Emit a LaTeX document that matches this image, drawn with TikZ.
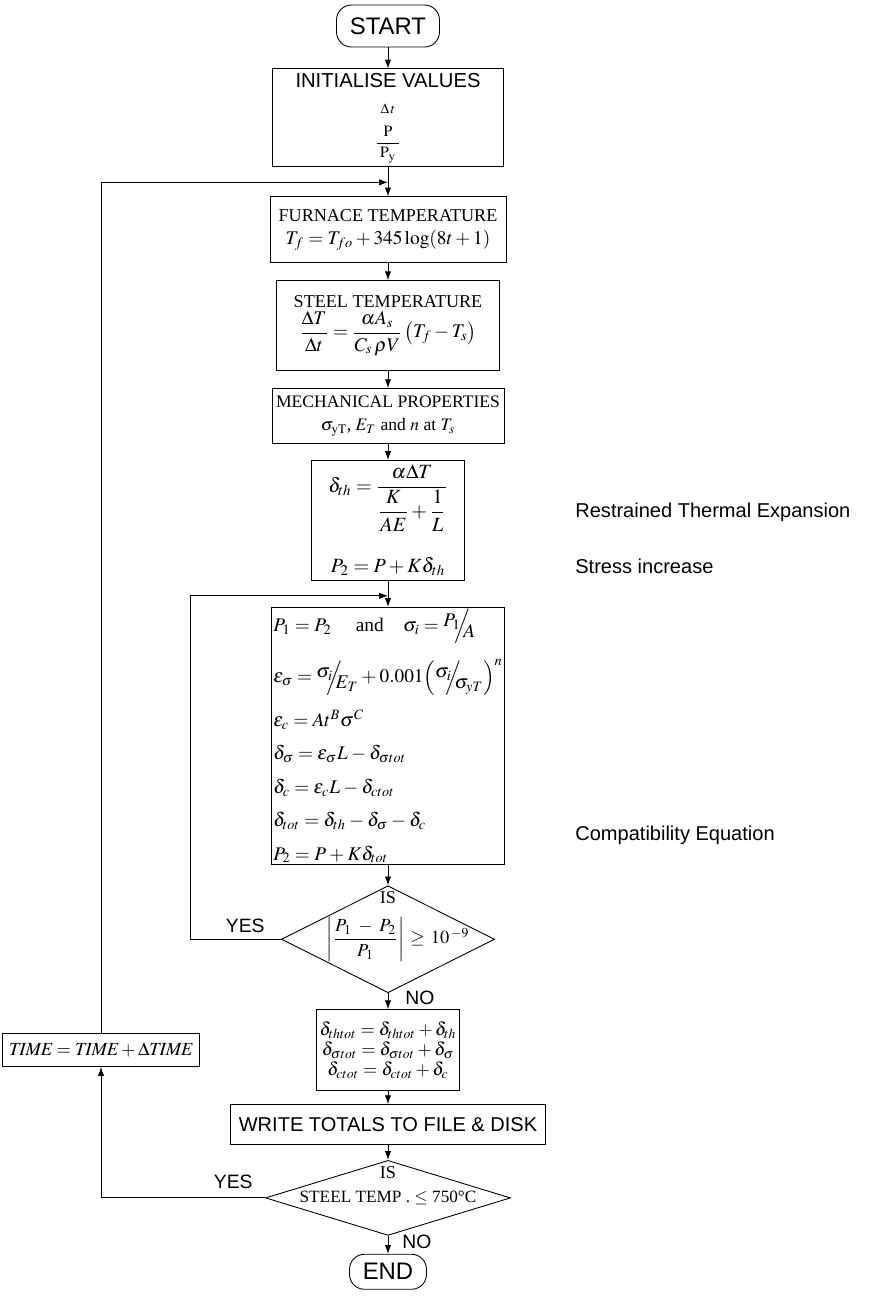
\documentclass[tikz,border=0pt]{standalone}
\usepackage{amsmath}
\usepackage{mathptmx}
\usepackage{fontspec}
\setmainfont{Liberation Serif}
\setsansfont{Liberation Sans}
\usetikzlibrary{arrows.meta, positioning, calc, shapes.geometric}

\newcommand{\slfrac}[2]{\raisebox{0.55ex}{$#1$}\!\!\!\Big/\!\!\!\raisebox{-0.7ex}{$#2$}}
\newcommand{\tightmath}{\medmuskip=3mu\relax\thickmuskip=4mu\relax}

\begin{document}
\begin{tikzpicture}[
    >={Latex[length=5pt, width=3.6pt]},
    line width=0.5pt,
    term/.style={
        rectangle,
        rounded corners=0.3cm,
        draw,
        font=\sffamily\fontsize{13.6}{15}\selectfont
    },
    box/.style={
        rectangle,
        draw,
        align=center,
        inner sep=2pt
    },
    decision/.style={
        diamond,
        draw,
        inner sep=0pt
    },
    lbl/.style={
        inner sep=0pt,
        font=\sffamily\fontsize{11}{13}\selectfont
    },
    note/.style={
        inner sep=0pt,
        anchor=west,
        font=\sffamily\fontsize{11.4}{13}\selectfont
    }
]

\useasboundingbox (0,0) rectangle (17.44,-25.94);

% Main vertical flow
\node[term, minimum width=2.06cm, minimum height=0.84cm] (start) at (7.76,-0.52) {START};

\node[box, below=0.42cm of start, minimum width=4.62cm, minimum height=1.96cm,
      font=\sffamily\fontsize{11.5}{14}\selectfont] (init)
    {INITIALISE VALUES\\[1pt]
     {\fontsize{8}{9}\selectfont$\Delta\,t$}\\[5pt]
     {\fontsize{9}{10}\selectfont$\dfrac{\;\mathrm{P}\;}{\;\mathrm{P}_{\mathrm{y}}\;}$}};

\node[box, below=0.58cm of init, minimum width=4.72cm, minimum height=1.32cm,
      font=\fontsize{10.3}{12}\selectfont] (furn)
    {FURNACE TEMPERATURE\\[1pt]
     {\fontsize{11}{13}\selectfont$T_f = T_{fo} + 345\log(8t+1)$}};

\node[box, below=0.34cm of furn, minimum width=4.46cm, minimum height=1.8cm,
      font=\fontsize{10.3}{12}\selectfont] (steel)
    {STEEL TEMPERATURE\\[1pt]
     {\fontsize{11}{13}\selectfont$\dfrac{\Delta T}{\Delta t} = \dfrac{\alpha A_s}{C_s\,\rho V}\left(T_f - T_s\right)$}};

\node[box, below=0.34cm of steel, minimum width=4.64cm, minimum height=1.1cm,
      font=\fontsize{10}{12}\selectfont] (mech)
    {MECHANICAL PROPERTIES\\[1pt]
     $\sigma_{\mathrm{yT}}$, $E_T$ and $n$ at $T_s$};

\node[box, below=0.32cm of mech, minimum width=3.06cm, minimum height=2.4cm,
      font=\fontsize{11.5}{13}\selectfont] (expn)
    {$\delta_{th} = \dfrac{\alpha\Delta T}{\dfrac{K}{AE}+\dfrac{1}{L}}$\\[14pt]
     $P_2 = P + K\delta_{th}$};

\node[box, below=0.52cm of expn, minimum width=4.5cm, minimum height=5.06cm, align=left,
      inner sep=1pt, font=\fontsize{11}{19}\selectfont\tightmath] (comp)
    {$P_1 = P_2$\quad\ and\quad $\sigma_i = \slfrac{P_1}{A}$\\[8pt]
     $\varepsilon_\sigma = \slfrac{\sigma_i}{E_T} + 0.001\Bigl(\slfrac{\sigma_i}{\sigma_{yT}}\Bigr)^{n}$\\[6pt]
     $\varepsilon_c = A t^B \sigma^C$\\
     $\delta_\sigma = \varepsilon_\sigma L - \delta_{\sigma tot}$\\
     $\delta_c = \varepsilon_c L - \delta_{ctot}$\\
     $\delta_{tot} = \delta_{th} - \delta_\sigma - \delta_c$\\
     $P_2 = P + K\delta_{tot}$};

\node[decision, below=0.4cm of comp, minimum width=4.26cm, minimum height=2.14cm] (d1) {};
\node[font=\fontsize{10.3}{12}\selectfont, below=0cm of d1.north] (is1) {IS};
\node[font=\fontsize{10.5}{12}\selectfont] (c1) at ([xshift=0.2cm]d1.center)
    {$\left|\dfrac{P_1 \;-\; P_2}{P_1}\right| \,\geq\, 10^{\,-9}$};

\node[box, below=0.32cm of d1, minimum width=2.78cm, minimum height=1.62cm,
      font=\fontsize{10.5}{11.5}\selectfont] (dtot)
    {$\delta_{thtot} = \delta_{thtot} + \delta_{th}$\\
     $\delta_{\sigma tot} = \delta_{\sigma tot} + \delta_\sigma$\\
     $\delta_{ctot} = \delta_{ctot} + \delta_c$};

\node[box, below=0.26cm of dtot, minimum width=6.3cm, minimum height=0.8cm,
      font=\sffamily\fontsize{11.4}{13}\selectfont] (write) {WRITE TOTALS TO FILE \& DISK};

\node[decision, below=0.3cm of write, minimum width=4.9cm, minimum height=1.5cm] (d2) {};
\node[font=\fontsize{10.3}{12}\selectfont, below=0cm of d2.north] (is2) {IS};
\node[font=\fontsize{9.8}{11}\selectfont] (c2) at (d2.center) {STEEL TEMP . $\leq$ 750°C};

\node[term, below=0.36cm of d2, minimum width=1.54cm, minimum height=0.7cm] (stop) {END};

% Time step box
\node[box, minimum width=3.94cm, minimum height=0.66cm,
      font=\fontsize{10.5}{13}\selectfont] (time) at (2.02,0 |- dtot)
    {$\mathit{TIME} = \mathit{TIME} + \Delta\mathit{TIME}$};

% YES / NO labels
\node[lbl, above left=0.12cm and 0.32cm of d1.west] (yes1) {YES};
\node[lbl, right=0.34cm of d1.south, yshift=-0.1cm] (no1) {NO};
\node[lbl, above left=0.18cm and 0.24cm of d2.west] (yes2) {YES};
\node[lbl, right=0.28cm of d2.south, yshift=-0.13cm] (no2) {NO};

% Side notes
\node[note, right=2.2cm of expn, yshift=0.16cm] (rte) {Restrained Thermal Expansion};
\node[note, right=2.2cm of expn, yshift=-0.92cm] (sinc) {Stress increase};
\node[note] (ceq) at ([yshift=-1.98cm]comp.center -| rte.west) {Compatibility Equation};

% Junctions for the loops
\coordinate[below=0.3cm of init] (j1);
\coordinate[below=0.3cm of expn] (j2);

% Main arrows
\draw[->] (start) -- (init);
\draw[->] (init) -- (furn);
\draw[->] (furn) -- (steel);
\draw[->] (steel) -- (mech);
\draw[->] (mech) -- (expn);
\draw[->] (expn) -- (comp);
\draw[->] (comp) -- (d1);
\draw[->] (d1) -- (dtot);
\draw[->] (dtot) -- (write);
\draw[->] (write) -- (d2);
\draw[->] (d2) -- (stop);

% Loops
\draw[->] (d1.west) -- ++(-1.82cm,0) |- (j2);
\draw[->] (d2.west) -| (time.south);
\draw[->] (time.north) |- (j1);

\end{tikzpicture}
\end{document}
